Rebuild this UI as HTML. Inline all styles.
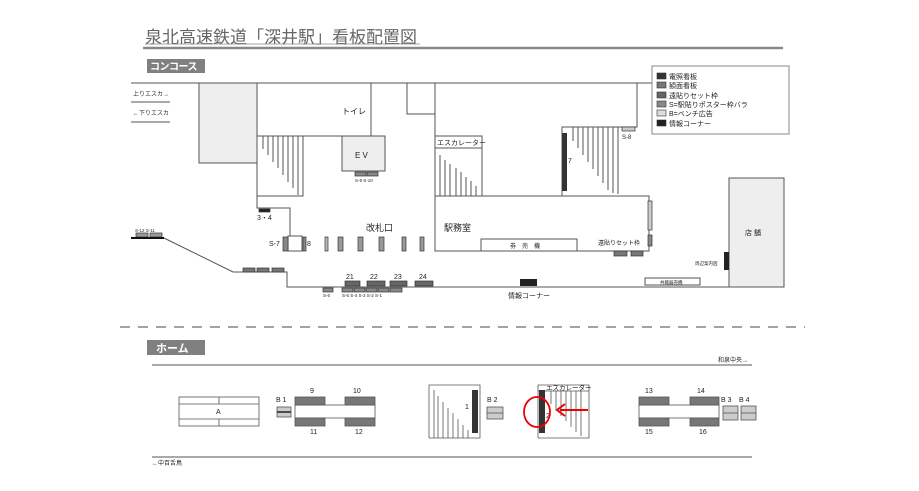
<!DOCTYPE html>
<html><head><meta charset="utf-8"><style>
html,body{margin:0;padding:0;background:#fff;}
svg{display:block;font-family:"Liberation Sans","Noto Sans CJK JP",sans-serif;}
</style></head><body>
<svg width="919" height="491" viewBox="0 0 919 491" xmlns="http://www.w3.org/2000/svg">
<!-- title -->
<text x="145" y="43" font-size="17" fill="#666">泉北高速鉄道「深井駅」看板配置図</text>
<line x1="145" y1="44" x2="420" y2="44" stroke="#888" stroke-width="0.8"/>
<line x1="143" y1="48" x2="783" y2="48" stroke="#888" stroke-width="2.5"/>
<!-- concourse label -->
<rect x="147" y="59" width="58" height="14" fill="#808080"/>
<text x="150" y="70" font-size="10" font-weight="bold" fill="#fff" letter-spacing="-0.5">コンコース</text>

<g stroke="#555" stroke-width="1" fill="none">
<line x1="131" y1="83" x2="652" y2="83"/>
<line x1="131" y1="102" x2="170" y2="102"/>
<line x1="131" y1="122" x2="170" y2="122"/>
</g>
<text x="133" y="96" font-size="6" fill="#333">上りエスカ→</text>
<text x="133" y="115" font-size="6" fill="#333">←下りエスカ</text>

<g stroke="#555" stroke-width="1">
<rect x="199" y="83" width="58" height="80" fill="#eee"/>
<rect x="257" y="83" width="114" height="53" fill="#fff"/>
<rect x="257" y="136" width="46" height="60" fill="#fff"/>
<rect x="342" y="136" width="43" height="35" fill="#eee"/>
<rect x="407" y="83" width="28" height="31" fill="#fff"/>
<line x1="435" y1="83" x2="435" y2="136"/>
<rect x="435" y="136" width="47" height="12" fill="#fff"/>
<rect x="435" y="148" width="47" height="48" fill="#fff"/>
<rect x="435" y="196" width="214" height="55" fill="#fff"/>
<polyline points="257,196 257,208 290,208 290,236" fill="none"/>
<polyline points="637,83 637,127 562,127 562,196" fill="none"/>
<polyline points="164,238 233,272 287,272 287,287 729,287" fill="none"/>
<rect x="729" y="178" width="55" height="109" fill="#eee"/>
<rect x="481" y="239" width="96" height="12" fill="#fff"/>
<rect x="645" y="278" width="55" height="7" fill="#fff"/>
<rect x="288" y="236" width="14" height="15" fill="#fff"/>
</g>
<!-- stair lines -->
<g stroke="#555" stroke-width="1">
<line x1="263" y1="136" x2="263" y2="149"/><line x1="268" y1="136" x2="268" y2="155"/>
<line x1="273" y1="136" x2="273" y2="162"/><line x1="278" y1="136" x2="278" y2="168"/>
<line x1="283" y1="136" x2="283" y2="175"/><line x1="288" y1="136" x2="288" y2="182"/>
<line x1="293" y1="136" x2="293" y2="188"/><line x1="298" y1="136" x2="298" y2="195"/>
<line x1="440" y1="155" x2="440" y2="196"/><line x1="445" y1="160" x2="445" y2="196"/>
<line x1="450" y1="164" x2="450" y2="196"/><line x1="456" y1="168" x2="456" y2="196"/>
<line x1="461" y1="172" x2="461" y2="196"/><line x1="466" y1="177" x2="466" y2="196"/>
<line x1="471" y1="181" x2="471" y2="196"/><line x1="476" y1="186" x2="476" y2="196"/>
<line x1="573" y1="127" x2="573" y2="141"/><line x1="578" y1="127" x2="578" y2="148"/>
<line x1="583" y1="127" x2="583" y2="155"/><line x1="588" y1="127" x2="588" y2="162"/>
<line x1="593" y1="127" x2="593" y2="169"/><line x1="598" y1="127" x2="598" y2="176"/>
<line x1="603" y1="127" x2="603" y2="183"/><line x1="608" y1="127" x2="608" y2="190"/>
<line x1="613" y1="127" x2="613" y2="193"/><line x1="618" y1="127" x2="618" y2="194"/>
</g>
<!-- signs concourse -->
<g stroke="#333" stroke-width="0.7">
<rect x="355" y="172" width="11" height="4" fill="#888"/><rect x="367" y="172" width="11" height="4" fill="#888"/>
<rect x="259" y="209" width="11" height="3" fill="#222"/>
<rect x="283" y="237" width="5" height="14" fill="#888"/>
<rect x="303" y="237" width="3" height="14" fill="#888"/>
<rect x="325" y="237" width="3" height="14" fill="#bbb"/>
<rect x="338" y="237" width="5" height="14" fill="#999"/>
<rect x="358" y="237" width="5" height="14" fill="#999"/>
<rect x="379" y="237" width="5" height="14" fill="#999"/>
<rect x="402" y="237" width="4" height="14" fill="#999"/>
<rect x="420" y="237" width="4" height="14" fill="#999"/>
<rect x="136" y="233" width="12" height="4" fill="#999"/><rect x="150" y="233" width="12" height="4" fill="#999"/>
<rect x="243" y="268" width="12" height="4" fill="#777"/><rect x="257" y="268" width="12" height="4" fill="#777"/><rect x="272" y="268" width="12" height="4" fill="#777"/>
<rect x="345" y="281" width="15" height="5" fill="#666"/><rect x="367" y="281" width="18" height="5" fill="#666"/>
<rect x="390" y="281" width="17" height="5" fill="#666"/><rect x="415" y="281" width="18" height="5" fill="#666"/>
<rect x="323" y="288" width="10" height="4" fill="#888"/>
<rect x="342" y="288" width="11" height="4" fill="#888"/><rect x="354" y="288" width="11" height="4" fill="#888"/>
<rect x="366" y="288" width="11" height="4" fill="#888"/><rect x="378" y="288" width="11" height="4" fill="#888"/><rect x="390" y="288" width="12" height="4" fill="#888"/>
<rect x="622" y="127" width="13" height="4" fill="#ccc"/>
<rect x="648" y="201" width="4" height="29" fill="#ccc"/>
<rect x="648" y="235" width="4" height="11" fill="#888"/>
<rect x="614" y="251" width="13" height="5" fill="#777"/><rect x="631" y="251" width="12" height="5" fill="#777"/>
</g>
<line x1="131" y1="238" x2="164" y2="238" stroke="#111" stroke-width="2"/>
<rect x="562" y="133" width="5" height="58" fill="#333"/>
<rect x="520" y="279" width="17" height="7" fill="#222"/>
<rect x="724" y="252" width="5" height="18" fill="#222"/>
<!-- concourse labels -->
<g fill="#222">
<text x="342" y="114" font-size="8">トイレ</text>
<text x="355" y="158" font-size="8">E V</text>
<text x="355" y="182" font-size="4.5">S-9 S-10</text>
<text x="257" y="220" font-size="7">3・4</text>
<text x="269" y="246" font-size="7">S-7</text>
<text x="307" y="246" font-size="7">8</text>
<text x="366" y="231" font-size="9">改札口</text>
<text x="444" y="231" font-size="9">駅務室</text>
<text x="437" y="145" font-size="7">エスカレーター</text>
<text x="510" y="248" font-size="6">券　売　機</text>
<text x="568" y="163" font-size="7">7</text>
<text x="622" y="139" font-size="6">S-8</text>
<text x="598" y="245" font-size="6">遠貼りセット枠</text>
<text x="745" y="235" font-size="7">店 舗</text>
<text x="695" y="265" font-size="4.5">周辺案内図</text>
<text x="660" y="284" font-size="4.5">共聴器売機</text>
<text x="135" y="232" font-size="4.5">S-12 S-11</text>
<text x="346" y="279" font-size="7">21</text><text x="370" y="279" font-size="7">22</text>
<text x="394" y="279" font-size="7">23</text><text x="419" y="279" font-size="7">24</text>
<text x="323" y="297" font-size="4.5">S-6</text>
<text x="342" y="297" font-size="4.5">S-5 S-4 S-3 S-2 S-1</text>
<text x="508" y="298" font-size="7">情報コーナー</text>
</g>
<!-- legend -->
<rect x="652" y="66" width="137" height="68" fill="#fff" stroke="#888"/>
<g stroke="#333" stroke-width="0.6">
<rect x="657" y="73" width="9" height="6" fill="#333"/>
<rect x="657" y="82" width="9" height="6" fill="#777"/>
<rect x="657" y="92" width="9" height="6" fill="#666"/>
<rect x="657" y="101" width="9" height="6" fill="#888"/>
<rect x="657" y="110" width="9" height="6" fill="#ddd"/>
<rect x="657" y="120" width="9" height="6" fill="#222"/>
</g>
<g font-size="7" fill="#222">
<text x="669" y="79">電照看板</text><text x="669" y="88">額面看板</text>
<text x="669" y="98">遠貼りセット枠</text><text x="669" y="107">S=駅貼りポスター枠バラ</text>
<text x="669" y="116">B=ベンチ広告</text><text x="669" y="126">情報コーナー</text>
</g>
<!-- dashed divider -->
<line x1="120" y1="327" x2="805" y2="327" stroke="#444" stroke-width="1" stroke-dasharray="10,8"/>
<!-- home -->
<rect x="147" y="340" width="58" height="15" fill="#808080"/>
<text x="156" y="352" font-size="11" font-weight="bold" fill="#fff">ホーム</text>
<line x1="152" y1="365" x2="752" y2="365" stroke="#555"/>
<line x1="152" y1="457" x2="752" y2="457" stroke="#777" stroke-width="1.2"/>
<text x="718" y="362" font-size="6" fill="#222">和泉中央→</text>
<text x="152" y="465" font-size="6" fill="#222">←中百舌鳥</text>
<g stroke="#555" stroke-width="0.8">
<rect x="179" y="397" width="80" height="29" fill="#fff"/>
<line x1="179" y1="404" x2="259" y2="404"/><line x1="179" y1="419" x2="259" y2="419"/>
<line x1="219" y1="397" x2="219" y2="404"/><line x1="219" y1="419" x2="219" y2="426"/>
<rect x="277" y="407" width="14" height="10" fill="#ccc"/>
<rect x="295" y="405" width="80" height="13" fill="#fff"/>
<rect x="295" y="397" width="30" height="8" fill="#777"/><rect x="345" y="397" width="30" height="8" fill="#777"/>
<rect x="295" y="418" width="30" height="8" fill="#777"/><rect x="345" y="418" width="30" height="8" fill="#777"/>
<polyline points="429,438 429,385 480,385 480,438 429,438" fill="#fff"/>
<rect x="487" y="407" width="16" height="12" fill="#ccc"/>
<polyline points="538,438 538,385 589,385 589,438 538,438" fill="#fff"/>
<rect x="639" y="405" width="80" height="13" fill="#fff"/>
<rect x="639" y="397" width="30" height="8" fill="#777"/><rect x="690" y="397" width="29" height="8" fill="#777"/>
<rect x="639" y="418" width="30" height="8" fill="#777"/><rect x="690" y="418" width="29" height="8" fill="#777"/>
<rect x="723" y="406" width="15" height="14" fill="#ccc"/>
<rect x="741" y="406" width="15" height="14" fill="#ccc"/>
<line x1="723" y1="413" x2="738" y2="413"/><line x1="741" y1="413" x2="756" y2="413"/>
<line x1="487" y1="413" x2="503" y2="413"/>
<line x1="434" y1="390" x2="434" y2="438"/><line x1="438" y1="396" x2="438" y2="438"/>
<line x1="443" y1="402" x2="443" y2="438"/><line x1="448" y1="408" x2="448" y2="438"/>
<line x1="453" y1="413" x2="453" y2="438"/><line x1="458" y1="419" x2="458" y2="438"/>
<line x1="463" y1="425" x2="463" y2="438"/><line x1="468" y1="430" x2="468" y2="438"/>
<line x1="538" y1="391" x2="589" y2="391"/>
<line x1="551" y1="391" x2="551" y2="404"/><line x1="556" y1="391" x2="556" y2="410"/>
<line x1="561" y1="391" x2="561" y2="416"/><line x1="566" y1="391" x2="566" y2="421"/>
<line x1="571" y1="391" x2="571" y2="427"/><line x1="576" y1="391" x2="576" y2="432"/>
<line x1="581" y1="391" x2="581" y2="436"/>
</g>
<line x1="277" y1="412" x2="291" y2="412" stroke="#222" stroke-width="1.5"/>
<rect x="472" y="390" width="6" height="43" fill="#333"/>
<rect x="539" y="390" width="6" height="43" fill="#333"/>
<g font-size="7" fill="#222">
<text x="216" y="414">A</text>
<text x="276" y="402">B 1</text>
<text x="310" y="393">9</text><text x="353" y="393">10</text>
<text x="310" y="434">11</text><text x="355" y="434">12</text>
<text x="465" y="409">1</text>
<text x="487" y="402">B 2</text>
<text x="546" y="390" font-size="6.5">エスカレーター</text>
<text x="546" y="418">2</text>
<text x="645" y="393">13</text><text x="697" y="393">14</text>
<text x="645" y="434">15</text><text x="699" y="434">16</text>
<text x="721" y="402">B 3</text><text x="739" y="402">B 4</text>
</g>
<ellipse cx="537" cy="412" rx="13" ry="15" fill="none" stroke="#e00" stroke-width="1.8"/>
<line x1="588" y1="410" x2="560" y2="410" stroke="#e00" stroke-width="2"/>
<polyline points="565,404 557,410 565,416" fill="none" stroke="#e00" stroke-width="2"/>
</svg>
</body></html>
